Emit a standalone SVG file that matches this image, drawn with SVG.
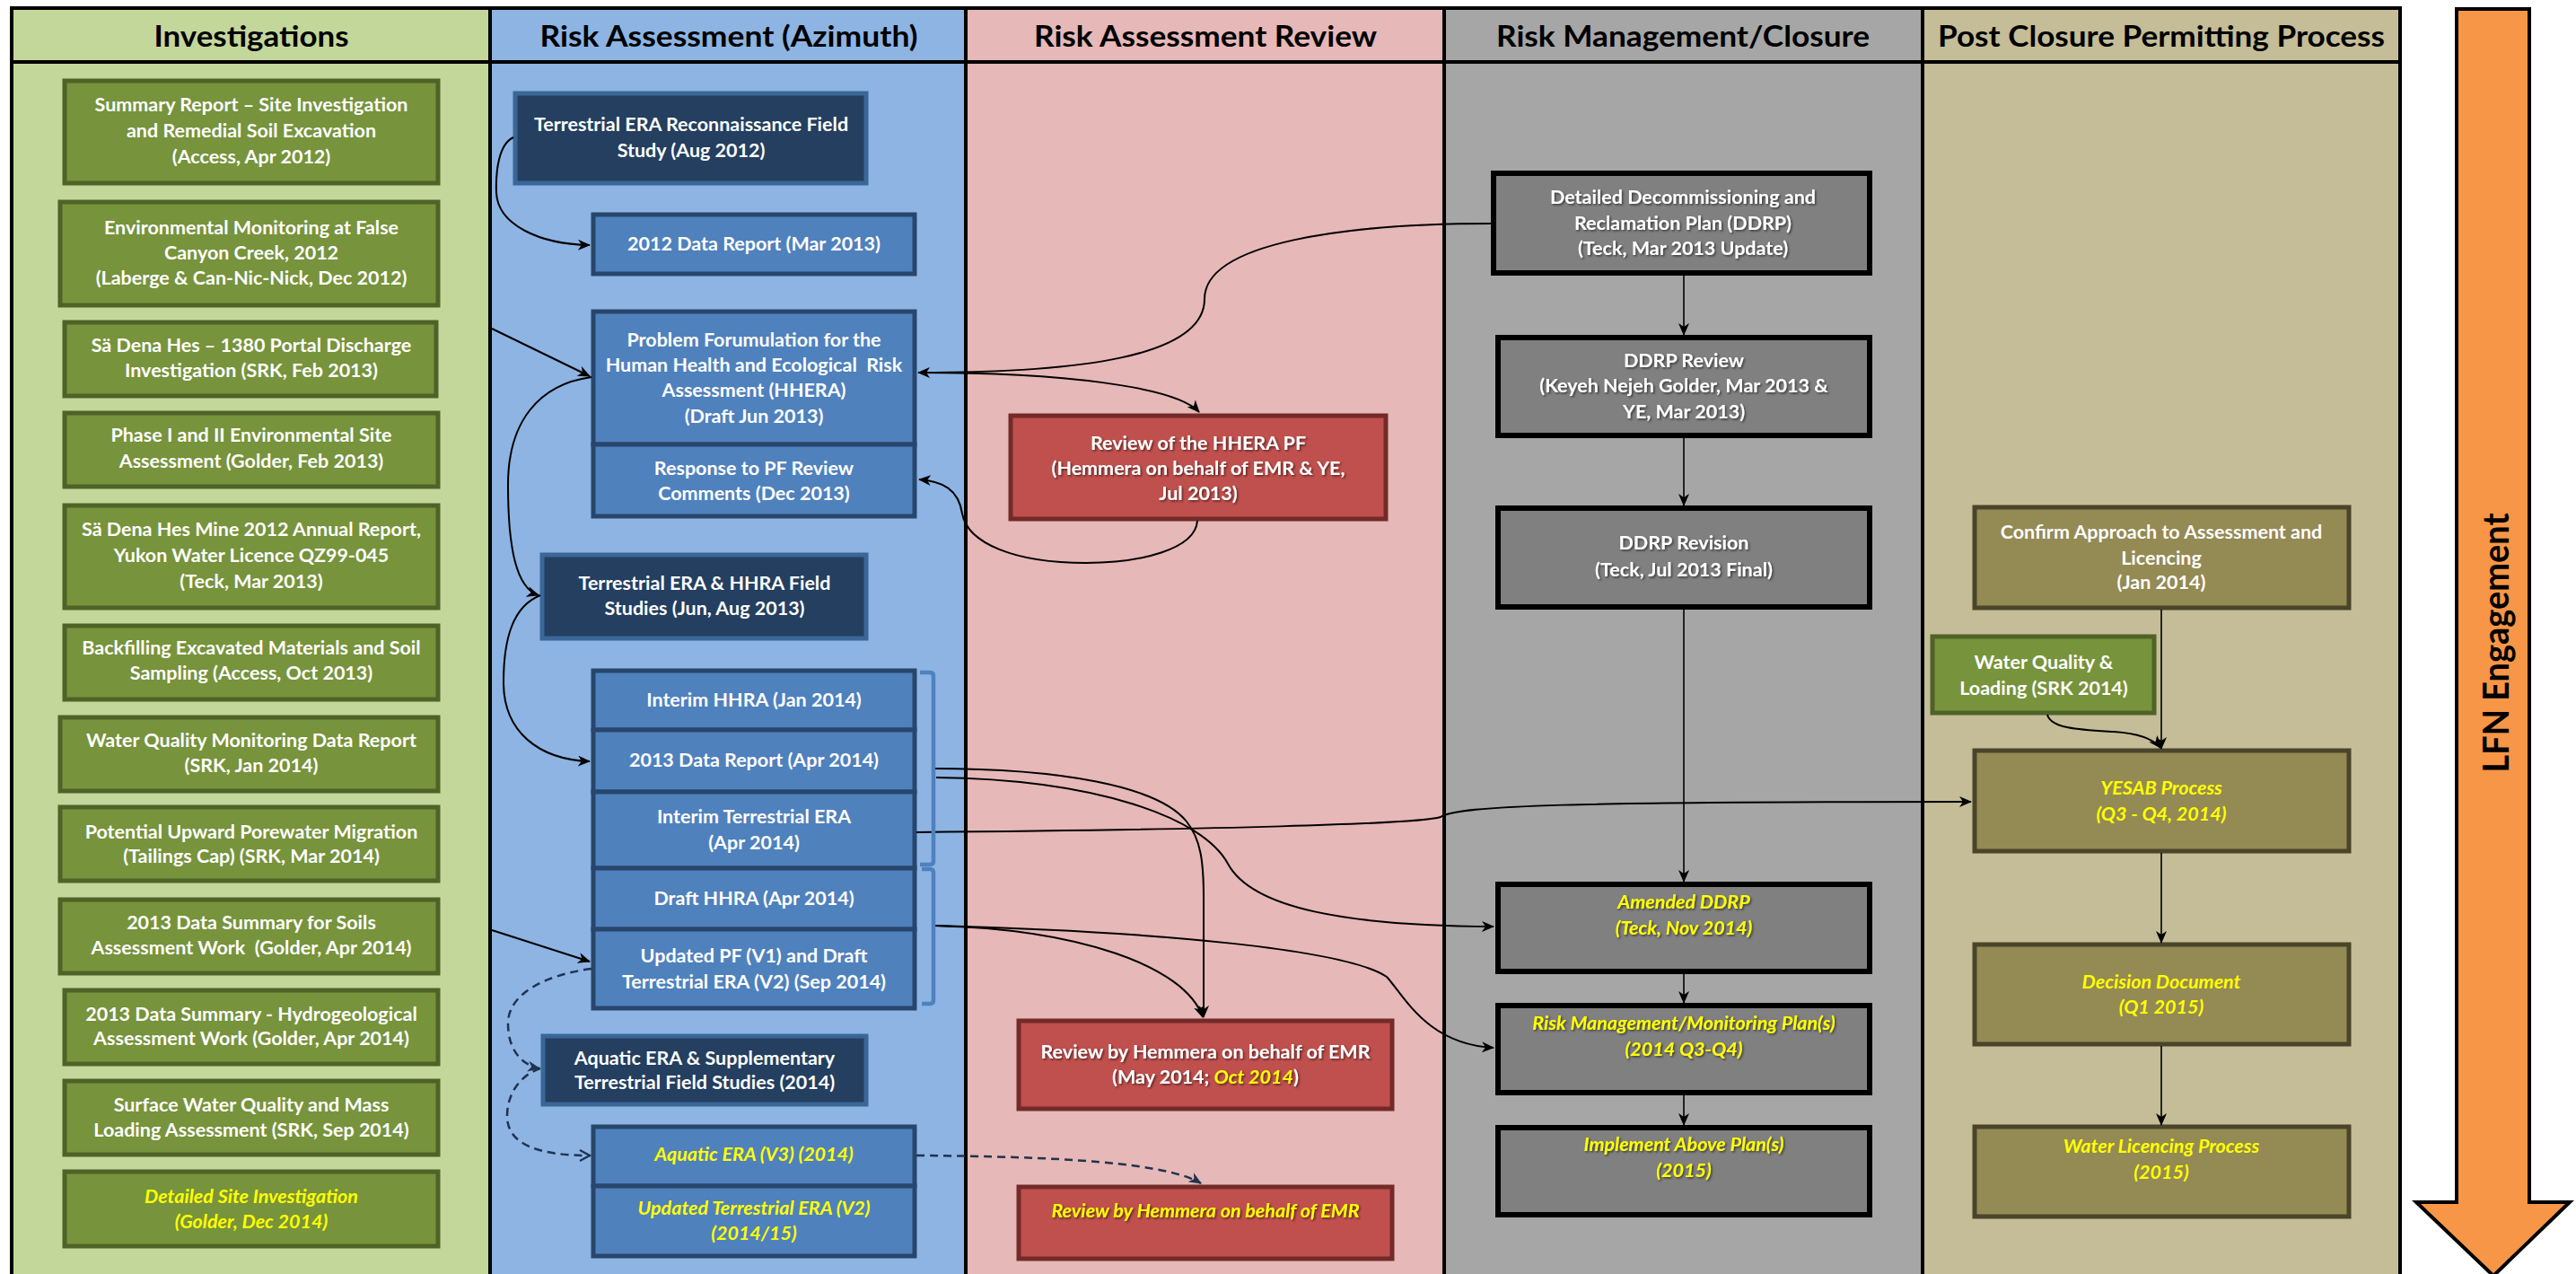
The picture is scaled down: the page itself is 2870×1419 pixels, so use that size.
<svg xmlns="http://www.w3.org/2000/svg" width="2870" height="1419" viewBox="0 0 2870 1419">
<style>
.t{font-family:Lato,"Liberation Sans",sans-serif;font-weight:700;font-size:21.5px;fill:#fff;text-anchor:middle}
.y{fill:#FFFF00;font-style:italic}
.h{font-family:Lato,"Liberation Sans",sans-serif;font-weight:700;font-size:33px;fill:#000;text-anchor:middle}
.gn{fill:#77933C;stroke:#4F6228;stroke-width:5}
.bl{fill:#4F81BD;stroke:#28466C;stroke-width:5}
.dk{fill:#243F60;stroke:#3B6698;stroke-width:5}
.rd{fill:#C0504D;stroke:#722B29;stroke-width:5}
.gy{fill:#808080;stroke:#000;stroke-width:6}
.ol{fill:#948A54;stroke:#4A452A;stroke-width:5}
.sh{filter:url(#ts)}
.c{fill:none;stroke:#000;stroke-width:2}
.cv{fill:none;stroke:#000;stroke-width:1.6}
.d{fill:none;stroke:#1F3350;stroke-width:2.5;stroke-dasharray:9 6}
.br{fill:none;stroke:#4F81BD;stroke-width:4.5}
</style>
<defs>
<marker id="ah" viewBox="0 0 14 12" refX="13" refY="6" markerWidth="14" markerHeight="12" markerUnits="userSpaceOnUse" orient="auto">
<path d="M0,0 L14,6 L0,12 L4,6 Z" fill="#000"/>
</marker>
<marker id="ahd" viewBox="0 0 14 12" refX="13" refY="6" markerWidth="14" markerHeight="12" markerUnits="userSpaceOnUse" orient="auto">
<path d="M0,0 L14,6 L0,12 L4,6 Z" fill="#1F3350"/>
</marker>
<marker id="aho" viewBox="0 0 14 14" refX="12" refY="7" markerWidth="14" markerHeight="14" markerUnits="userSpaceOnUse" orient="auto">
<path d="M1,1 L12,7 L1,13" fill="none" stroke="#1F3350" stroke-width="2.2"/>
</marker>
<filter id="ts" x="-5%" y="-30%" width="110%" height="160%">
<feDropShadow dx="1.5" dy="1.5" stdDeviation="0.8" flood-color="#000" flood-opacity="0.55"/>
</filter>
</defs>

<g id="lanes">
<rect x="13" y="9" width="533" height="1412" fill="#C4D79B"/>
<rect x="546" y="9" width="530" height="1412" fill="#8DB4E2"/>
<rect x="1076" y="9" width="533" height="1412" fill="#E6B8B7"/>
<rect x="1609" y="9" width="533" height="1412" fill="#A6A6A6"/>
<rect x="2142" y="9" width="532" height="1412" fill="#C4BD97"/>
<path d="M13,1425 L13,9 L2674,9 L2674,1425 M546,9 L546,1425 M1076,9 L1076,1425 M1609,9 L1609,1425 M2142,9 L2142,1425 M13,69 L2674,69" fill="none" stroke="#000" stroke-width="4"/>
<text class="h" x="280" y="52" textLength="217" lengthAdjust="spacingAndGlyphs">Investigations</text>
<text class="h" x="812" y="52" textLength="421" lengthAdjust="spacingAndGlyphs">Risk Assessment (Azimuth)</text>
<text class="h" x="1343" y="52" textLength="382" lengthAdjust="spacingAndGlyphs">Risk Assessment Review</text>
<text class="h" x="1875" y="52" textLength="416" lengthAdjust="spacingAndGlyphs">Risk Management/Closure</text>
<text class="h" x="2408" y="52" textLength="498" lengthAdjust="spacingAndGlyphs">Post Closure Permitting Process</text>
</g>

<g id="lfn-engagement">
<polygon points="2737,10 2818,10 2818,1339 2863,1339 2778,1421 2692,1339 2737,1339" fill="#F79646" stroke="#000" stroke-width="4"/>
<text class="h" transform="translate(2795,716) rotate(-90)" style="font-size:40px" textLength="289" lengthAdjust="spacingAndGlyphs">LFN Engagement</text>
</g>

<!-- Investigations -->
<g id="inv1"><rect class="gn" x="72" y="90" width="416" height="114"/><text class="t"><tspan x="280" y="124">Summary Report – Site Investigation</tspan><tspan x="280" y="153">and Remedial Soil Excavation</tspan><tspan x="280" y="182">(Access, Apr 2012)</tspan></text></g>
<g id="inv2"><rect class="gn" x="67" y="225" width="421" height="115"/><text class="t"><tspan x="280" y="261">Environmental Monitoring at False</tspan><tspan x="280" y="289">Canyon Creek, 2012</tspan><tspan x="280" y="317">(Laberge &amp; Can-Nic-Nick, Dec 2012)</tspan></text></g>
<g id="inv3"><rect class="gn" x="72" y="359" width="414" height="82"/><text class="t"><tspan x="280" y="392">Sä Dena Hes – 1380 Portal Discharge</tspan><tspan x="280" y="420">Investigation (SRK, Feb 2013)</tspan></text></g>
<g id="inv4"><rect class="gn" x="72" y="460" width="416" height="82"/><text class="t"><tspan x="280" y="492">Phase I and II Environmental Site</tspan><tspan x="280" y="521">Assessment (Golder, Feb 2013)</tspan></text></g>
<g id="inv5"><rect class="gn" x="72" y="563" width="416" height="114"/><text class="t"><tspan x="280" y="597">Sä Dena Hes Mine 2012 Annual Report,</tspan><tspan x="280" y="626">Yukon Water Licence QZ99-045</tspan><tspan x="280" y="655">(Teck, Mar 2013)</tspan></text></g>
<g id="inv6"><rect class="gn" x="72" y="697" width="416" height="82"/><text class="t"><tspan x="280" y="729">Backfilling Excavated Materials and Soil</tspan><tspan x="280" y="757">Sampling (Access, Oct 2013)</tspan></text></g>
<g id="inv7"><rect class="gn" x="67" y="799" width="421" height="82"/><text class="t"><tspan x="280" y="832">Water Quality Monitoring Data Report</tspan><tspan x="280" y="860">(SRK, Jan 2014)</tspan></text></g>
<g id="inv8"><rect class="gn" x="67" y="899" width="421" height="82"/><text class="t"><tspan x="280" y="934">Potential Upward Porewater Migration</tspan><tspan x="280" y="961">(Tailings Cap) (SRK, Mar 2014)</tspan></text></g>
<g id="inv9"><rect class="gn" x="67" y="1002" width="421" height="82"/><text class="t"><tspan x="280" y="1035">2013 Data Summary for Soils</tspan><tspan x="280" y="1063" xml:space="preserve">Assessment Work  (Golder, Apr 2014)</tspan></text></g>
<g id="inv10"><rect class="gn" x="72" y="1103" width="416" height="82"/><text class="t"><tspan x="280" y="1137">2013 Data Summary - Hydrogeological</tspan><tspan x="280" y="1164">Assessment Work (Golder, Apr 2014)</tspan></text></g>
<g id="inv11"><rect class="gn" x="72" y="1204" width="416" height="82"/><text class="t"><tspan x="280" y="1238">Surface Water Quality and Mass</tspan><tspan x="280" y="1266">Loading Assessment (SRK, Sep 2014)</tspan></text></g>
<g id="inv12"><rect class="gn" x="72" y="1305" width="416" height="83"/><text class="t y"><tspan x="280" y="1340">Detailed Site Investigation</tspan><tspan x="280" y="1368">(Golder, Dec 2014)</tspan></text></g>

<!-- Risk Assessment -->
<g id="ra-recon"><rect class="dk" x="574" y="104" width="391" height="100"/><text class="t"><tspan x="770" y="146">Terrestrial ERA Reconnaissance Field</tspan><tspan x="770" y="175">Study (Aug 2012)</tspan></text></g>
<g id="ra-2012dr"><rect class="bl" x="661" y="239" width="358" height="66"/><text class="t"><tspan x="840" y="279">2012 Data Report (Mar 2013)</tspan></text></g>
<g id="ra-pf"><rect class="bl" x="661" y="347" width="358" height="148"/><text class="t"><tspan x="840" y="386">Problem Forumulation for the</tspan><tspan x="840" y="414" xml:space="preserve">Human Health and Ecological  Risk</tspan><tspan x="840" y="442">Assessment (HHERA)</tspan><tspan x="840" y="471">(Draft Jun 2013)</tspan></text></g>
<g id="ra-response"><rect class="bl" x="661" y="495" width="358" height="80"/><text class="t"><tspan x="840" y="529">Response to PF Review</tspan><tspan x="840" y="557">Comments (Dec 2013)</tspan></text></g>
<g id="ra-field"><rect class="dk" x="604" y="618" width="361" height="93"/><text class="t"><tspan x="785" y="657">Terrestrial ERA &amp; HHRA Field</tspan><tspan x="785" y="685">Studies (Jun, Aug 2013)</tspan></text></g>
<g id="ra-interim-hhra"><rect class="bl" x="661" y="747" width="358" height="66"/><text class="t"><tspan x="840" y="787">Interim HHRA (Jan 2014)</tspan></text></g>
<g id="ra-2013dr"><rect class="bl" x="661" y="813" width="358" height="69"/><text class="t"><tspan x="840" y="854">2013 Data Report (Apr 2014)</tspan></text></g>
<g id="ra-interim-era"><rect class="bl" x="661" y="882" width="358" height="85"/><text class="t"><tspan x="840" y="917">Interim Terrestrial ERA</tspan><tspan x="840" y="946">(Apr 2014)</tspan></text></g>
<g id="ra-draft-hhra"><rect class="bl" x="661" y="967" width="358" height="68"/><text class="t"><tspan x="840" y="1008">Draft HHRA (Apr 2014)</tspan></text></g>
<g id="ra-updated-pf"><rect class="bl" x="661" y="1035" width="358" height="88"/><text class="t"><tspan x="840" y="1072">Updated PF (V1) and Draft</tspan><tspan x="840" y="1101">Terrestrial ERA (V2) (Sep 2014)</tspan></text></g>
<g id="ra-aquatic-field"><rect class="dk" x="605" y="1154" width="360" height="76"/><text class="t"><tspan x="785" y="1186">Aquatic ERA &amp; Supplementary</tspan><tspan x="785" y="1213">Terrestrial Field Studies (2014)</tspan></text></g>
<g id="ra-aquatic-v3"><rect class="bl" x="661" y="1255" width="358" height="66"/><text class="t y"><tspan x="840" y="1293">Aquatic ERA (V3) (2014)</tspan></text></g>
<g id="ra-updated-era"><rect class="bl" x="661" y="1321" width="358" height="78"/><text class="t y"><tspan x="840" y="1353">Updated Terrestrial ERA (V2)</tspan><tspan x="840" y="1381">(2014/15)</tspan></text></g>

<!-- Risk Assessment Review -->
<g id="rv-hhera-pf"><rect class="rd" x="1126" y="463" width="418" height="115"/><text class="t sh"><tspan x="1335" y="501">Review of the HHERA PF</tspan><tspan x="1335" y="529">(Hemmera on behalf of EMR &amp; YE,</tspan><tspan x="1335" y="557">Jul 2013)</tspan></text></g>
<g id="rv-may2014"><rect class="rd" x="1135" y="1137" width="416" height="98"/><text class="t sh"><tspan x="1343" y="1179">Review by Hemmera on behalf of EMR</tspan><tspan x="1343" y="1207">(May 2014; <tspan class="y">Oct 2014</tspan>)</tspan></text></g>
<g id="rv-future"><rect class="rd" x="1135" y="1322" width="416" height="80"/><text class="t y sh"><tspan x="1343" y="1356">Review by Hemmera on behalf of EMR</tspan></text></g>

<!-- Risk Management/Closure -->
<g id="rm-ddrp"><rect class="gy" x="1664" y="193" width="419" height="111"/><text class="t sh"><tspan x="1875" y="227">Detailed Decommissioning and</tspan><tspan x="1875" y="256">Reclamation Plan (DDRP)</tspan><tspan x="1875" y="284">(Teck, Mar 2013 Update)</tspan></text></g>
<g id="rm-review"><rect class="gy" x="1669" y="376" width="414" height="109"/><text class="t sh"><tspan x="1876" y="409">DDRP Review</tspan><tspan x="1876" y="437">(Keyeh Nejeh Golder, Mar 2013 &amp;</tspan><tspan x="1876" y="466">YE, Mar 2013)</tspan></text></g>
<g id="rm-revision"><rect class="gy" x="1669" y="566" width="414" height="110"/><text class="t sh"><tspan x="1876" y="612">DDRP Revision</tspan><tspan x="1876" y="642">(Teck, Jul 2013 Final)</tspan></text></g>
<g id="rm-amended"><rect class="gy" x="1669" y="985" width="414" height="97"/><text class="t y sh"><tspan x="1876" y="1012">Amended DDRP</tspan><tspan x="1876" y="1041">(Teck, Nov 2014)</tspan></text></g>
<g id="rm-plans"><rect class="gy" x="1669" y="1120" width="414" height="97"/><text class="t y sh"><tspan x="1876" y="1147">Risk Management/Monitoring Plan(s)</tspan><tspan x="1876" y="1176">(2014 Q3-Q4)</tspan></text></g>
<g id="rm-implement"><rect class="gy" x="1669" y="1256" width="414" height="97"/><text class="t y sh"><tspan x="1876" y="1282">Implement Above Plan(s)</tspan><tspan x="1876" y="1311">(2015)</tspan></text></g>

<!-- Post Closure -->
<g id="pc-confirm"><rect class="ol" x="2200" y="565" width="417" height="112"/><text class="t"><tspan x="2408" y="600">Confirm Approach to Assessment and</tspan><tspan x="2408" y="629">Licencing</tspan><tspan x="2408" y="656">(Jan 2014)</tspan></text></g>
<g id="pc-wq"><rect class="gn" x="2153" y="709" width="247" height="85"/><text class="t"><tspan x="2277" y="745">Water Quality &amp;</tspan><tspan x="2277" y="774">Loading (SRK 2014)</tspan></text></g>
<g id="pc-yesab"><rect class="ol" x="2200" y="836" width="417" height="112"/><text class="t y"><tspan x="2408" y="885">YESAB Process</tspan><tspan x="2408" y="914">(Q3 - Q4, 2014)</tspan></text></g>
<g id="pc-decision"><rect class="ol" x="2200" y="1052" width="417" height="111"/><text class="t y"><tspan x="2408" y="1101">Decision Document</tspan><tspan x="2408" y="1129">(Q1 2015)</tspan></text></g>
<g id="pc-licencing"><rect class="ol" x="2200" y="1255" width="417" height="100"/><text class="t y"><tspan x="2408" y="1284">Water Licencing Process</tspan><tspan x="2408" y="1313">(2015)</tspan></text></g>

<g id="connectors">
<path class="c" d="M572,153 C556,160 552,190 553,215 C555,250 600,272 657,273" marker-end="url(#ah)"/>
<path class="c" d="M548,366 L657,419" marker-end="url(#ah)"/>
<path class="c" d="M659,420 C600,428 566,470 566,540 C566,610 575,655 600,663" marker-end="url(#ah)"/>
<path class="c" d="M602,663 C572,675 561,710 561,760 C561,815 600,846 657,848" marker-end="url(#ah)"/>
<path class="c" d="M548,1036 L657,1071" marker-end="url(#ah)"/>
<path class="c" d="M1662,249 C1500,249 1342,270 1342,333 C1342,398 1200,415 1023,415" marker-end="url(#ah)"/>
<path class="c" d="M1023,415 C1180,415 1310,430 1336,459" marker-end="url(#ah)"/>
<path class="c" d="M1334,580 C1332,612 1270,627 1210,627 C1130,627 1078,605 1072,572 C1068,545 1050,536 1024,534" marker-end="url(#ah)"/>
<path class="c" d="M1039,856 C1180,856 1290,875 1322,915 C1338,935 1341,960 1341,1000 L1341,1133" marker-end="url(#ah)"/>
<path class="c" d="M1043,866 C1220,868 1340,910 1368,962 C1395,1012 1500,1031 1664,1032" marker-end="url(#ah)"/>
<path class="c" d="M1021,927 C1350,924 1580,918 1605,910 C1625,897 1750,893 2196,893" marker-end="url(#ah)"/>
<path class="c" d="M1042,1031 C1200,1035 1320,1075 1340,1133" marker-end="url(#ah)"/>
<path class="c" d="M1042,1031 C1300,1038 1500,1058 1545,1088 C1565,1110 1590,1163 1664,1167" marker-end="url(#ah)"/>
<path class="c" d="M2281,796 C2285,812 2320,813 2355,815 C2385,817 2400,824 2407,833" marker-end="url(#ah)"/>
<path class="cv" d="M1876,307 L1876,373" marker-end="url(#ah)"/>
<path class="cv" d="M1876,488 L1876,563" marker-end="url(#ah)"/>
<path class="cv" d="M1876,679 L1876,982" marker-end="url(#ah)"/>
<path class="cv" d="M1876,1085 L1876,1117" marker-end="url(#ah)"/>
<path class="cv" d="M1876,1220 L1876,1253" marker-end="url(#ah)"/>
<path class="cv" d="M2408,679 L2408,834" marker-end="url(#ah)"/>
<path class="cv" d="M2408,950 L2408,1050" marker-end="url(#ah)"/>
<path class="cv" d="M2408,1165 L2408,1253" marker-end="url(#ah)"/>
<path class="d" d="M659,1079 C612,1085 566,1105 566,1140 C566,1168 580,1186 601,1190" marker-end="url(#ahd)"/>
<path class="d" d="M602,1190 C578,1198 565,1220 565,1243 C565,1275 600,1287 657,1287" marker-end="url(#aho)"/>
<path class="d" d="M1021,1287 C1180,1288 1300,1295 1338,1318" marker-end="url(#ahd)"/>
</g>

<g id="brackets">
<path class="br" d="M1025,749 L1036,749 Q1040,749 1040,753 L1040,959 Q1040,963 1036,963 L1025,963"/>
<path class="br" d="M1027,968 L1036,968 Q1040,968 1040,972 L1040,1114 Q1040,1118 1036,1118 L1027,1118"/>
</g>
</svg>
